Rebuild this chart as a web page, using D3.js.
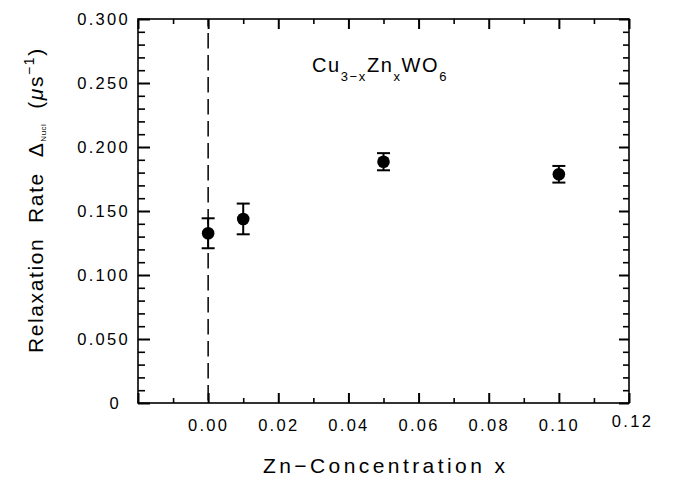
<!DOCTYPE html>
<html>
<head>
<meta charset="utf-8">
<script src="https://cdn.jsdelivr.net/npm/d3@7"></script>
<style>
  body { margin: 0; background: #fff; }
  svg text { font-family: "Liberation Sans", Arial, sans-serif; fill: #000; }
</style>
</head>
<body>
<div id="chart"></div>
<script>
// data
const concentration = [0.00, 0.01, 0.05, 0.10];
const rate = [0.1326, 0.1438, 0.1885, 0.1787];
const rateErr = [0.0117, 0.0120, 0.0067, 0.0065];

const xTicks = [-0.02, 0.00, 0.02, 0.04, 0.06, 0.08, 0.10, 0.12];
const xTickLabels = ['', '0.00', '0.02', '0.04', '0.06', '0.08', '0.10', '0.12'];
const yTicks = [0, 0.05, 0.10, 0.15, 0.20, 0.25, 0.30];
const yTickLabels = ['0', '0.050', '0.100', '0.150', '0.200', '0.250', '0.300'];

const margin = {top: 19, right: 47, bottom: 77, left: 138};
const width = 676 - margin.left - margin.right;
const height = 480 - margin.top - margin.bottom;

const svg = d3.select('#chart')
    .append('svg')
    .attr('width', 676)
    .attr('height', 480);

const g = svg.append('g')
    .attr('transform', `translate(${margin.left},${margin.top})`);

const x = d3.scaleLinear().domain([-0.02, 0.12]).range([0, width]);
const y = d3.scaleLinear().domain([0, 0.30]).range([height, 0]);

const xMinor = d3.range(-0.01, 0.12, 0.02);
const yMinor = d3.range(0, 0.3001, 0.01).filter(v => Math.abs(v * 20 - Math.round(v * 20)) > 1e-6);

// axes
const tickStyle = (sel, w) => {
    sel.select('.domain').remove();
    sel.selectAll('.tick line').attr('stroke', '#000').attr('stroke-width', w);
};

g.append('g').attr('transform', `translate(0,${height})`)
    .call(d3.axisBottom(x).tickValues(xTicks).tickSize(-10).tickPadding(16)
        .tickFormat((d, i) => xTickLabels[i]))
    .call(s => tickStyle(s, 2))
    .call(s => s.selectAll('text')
        .attr('font-size', 16.5)
        .attr('letter-spacing', 2.3)
        .attr('dx', d => d === 0.12 ? 3 : 0)
        .attr('dy', d => d === 0.12 ? '0.48em' : '0.71em'));

g.append('g').attr('transform', `translate(0,${height})`)
    .call(d3.axisBottom(x).tickValues(xMinor).tickSize(-5).tickFormat(''))
    .call(s => tickStyle(s, 1.6));

g.append('g')
    .call(d3.axisTop(x).tickValues(xTicks).tickSize(-10).tickFormat(''))
    .call(s => tickStyle(s, 2));
g.append('g')
    .call(d3.axisTop(x).tickValues(xMinor).tickSize(-5).tickFormat(''))
    .call(s => tickStyle(s, 1.6));

g.append('g')
    .call(d3.axisLeft(y).tickValues(yTicks).tickSize(-12).tickPadding(8)
        .tickFormat((d, i) => yTickLabels[i]))
    .call(s => tickStyle(s, 2))
    .call(s => s.selectAll('text')
        .attr('font-size', 16.5)
        .attr('letter-spacing', 2.3)
        .attr('dx', d => d === 0 ? -9 : 0)
        .attr('dy', '0.36em'));

g.append('g')
    .call(d3.axisLeft(y).tickValues(yMinor).tickSize(-7).tickFormat(''))
    .call(s => tickStyle(s, 1.6));

g.append('g').attr('transform', `translate(${width},0)`)
    .call(d3.axisRight(y).tickValues(yTicks).tickSize(-10).tickFormat(''))
    .call(s => tickStyle(s, 2));
g.append('g').attr('transform', `translate(${width},0)`)
    .call(d3.axisRight(y).tickValues(yMinor).tickSize(-6).tickFormat(''))
    .call(s => tickStyle(s, 1.6));

// frame
g.append('rect')
    .attr('width', width)
    .attr('height', height)
    .attr('fill', 'none')
    .attr('stroke', '#000')
    .attr('stroke-width', 1.6);

// dashed line at x = 0
g.append('line')
    .attr('x1', x(0)).attr('x2', x(0))
    .attr('y1', 0).attr('y2', height)
    .attr('stroke', '#000')
    .attr('stroke-width', 1.5)
    .attr('stroke-dasharray', '15.5,6.5')
    .attr('stroke-dashoffset', 8);

// error bars + points
const pts = concentration.map((c, i) => ({x: c, y: rate[i], e: rateErr[i]}));

const bars = g.append('g').selectAll('g')
    .data(pts)
    .enter()
    .append('g')
    .attr('stroke', '#000')
    .attr('stroke-width', 2);

bars.append('line')
    .attr('x1', d => x(d.x)).attr('x2', d => x(d.x))
    .attr('y1', d => y(d.y - d.e)).attr('y2', d => y(d.y + d.e));
bars.append('line')
    .attr('x1', d => x(d.x) - 6.5).attr('x2', d => x(d.x) + 6.5)
    .attr('y1', d => y(d.y + d.e)).attr('y2', d => y(d.y + d.e));
bars.append('line')
    .attr('x1', d => x(d.x) - 6.5).attr('x2', d => x(d.x) + 6.5)
    .attr('y1', d => y(d.y - d.e)).attr('y2', d => y(d.y - d.e));

g.append('g').selectAll('circle')
    .data(pts)
    .enter()
    .append('circle')
    .attr('cx', d => x(d.x))
    .attr('cy', d => y(d.y))
    .attr('r', 6.3)
    .attr('fill', '#000');

// formula label
const formula = svg.append('text')
    .attr('x', 312)
    .attr('y', 72)
    .attr('font-size', 20)
    .attr('letter-spacing', 1.6);
formula.append('tspan').text('Cu');
formula.append('tspan').attr('font-size', 13).attr('dy', 9).text('3\u2212x');
formula.append('tspan').attr('dy', -9).text('Zn');
formula.append('tspan').attr('font-size', 13).attr('dy', 9).text('x');
formula.append('tspan').attr('dy', -9).text('WO');
formula.append('tspan').attr('font-size', 13).attr('dy', 9).text('6');

// axis titles
svg.append('text')
    .attr('x', 263)
    .attr('y', 473)
    .attr('font-size', 21)
    .attr('textLength', 242)
    .attr('lengthAdjust', 'spacing')
    .text('Zn\u2212Concentration  x');

const yTitle = svg.append('text')
    .attr('transform', 'translate(43,353) rotate(-90)')
    .attr('font-size', 21)
    .attr('letter-spacing', 1.6)
    .attr('xml:space', 'preserve');
yTitle.append('tspan').text('Relaxation  Rate  \u0394');
yTitle.append('tspan').attr('font-size', 8).attr('letter-spacing', 0.5).attr('dy', 3).text('Nucl');
yTitle.append('tspan').attr('dy', -3).text('  (');
yTitle.append('tspan').attr('font-style', 'italic').text('\u03bc');
yTitle.append('tspan').text('s');
yTitle.append('tspan').attr('font-size', 14).attr('dy', -9).text('\u22121');
yTitle.append('tspan').attr('dy', 9).text(')');
</script>
</body>
</html>
